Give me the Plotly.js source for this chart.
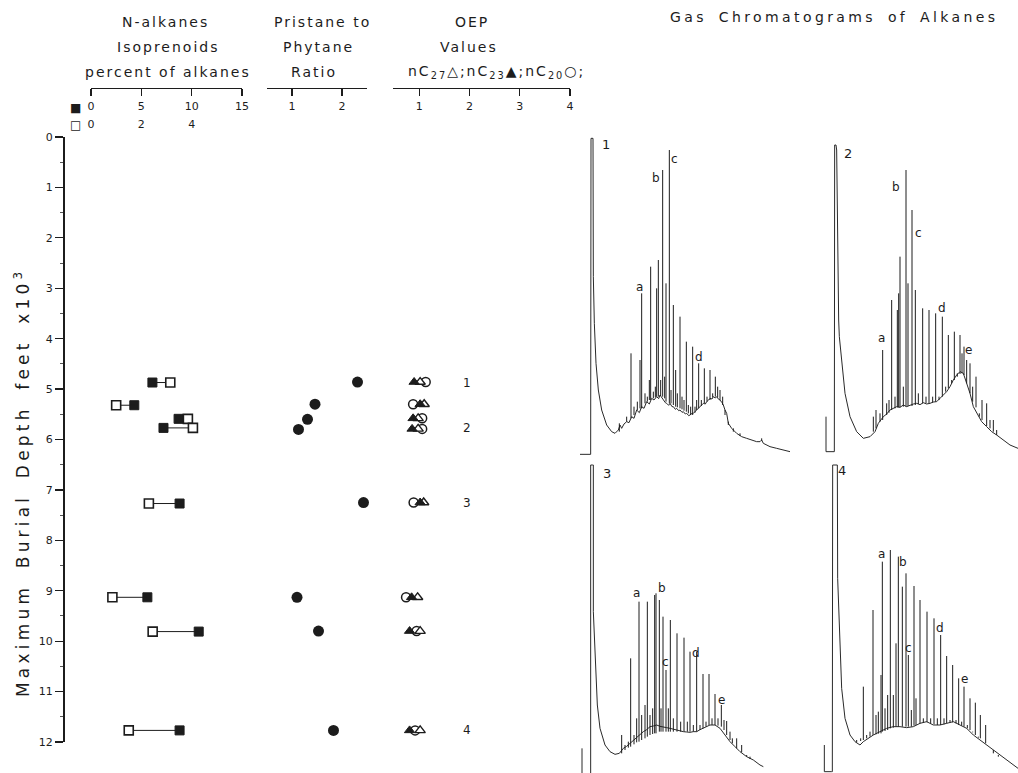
<!DOCTYPE html>
<html><head><meta charset="utf-8">
<script src="https://cdn.plot.ly/plotly-3.0.1.min.js"></script>
<style>
html,body{margin:0;padding:0;background:#fff;}
#chart{width:1018px;height:773px;}
.annotation-text{letter-spacing:2px;}
text[data-unformatted^="Gas"]{letter-spacing:3.4px;word-spacing:4px;}
text[data-unformatted^="Maximum"]{letter-spacing:4.2px;word-spacing:6px;}
</style></head><body><div id="chart"></div><script>
// ---------- left panel data ----------
const depthSq = [4.87, 5.32, 5.59, 5.77, 7.27, 9.13, 9.81, 11.77];
const nAlkanes = [6.1, 4.3, 8.7, 7.2, 8.8, 5.6, 10.7, 8.8];          // filled squares, %
const isoprenoids = [3.15, 1.0, 3.85, 4.05, 2.3, 0.85, 2.45, 1.5];   // open squares, %
const depthPP = [4.86, 5.30, 5.60, 5.80, 7.25, 9.13, 9.80, 11.77];
const pristanePhytane = [2.31, 1.46, 1.31, 1.13, 2.43, 1.10, 1.53, 1.83];
const depthOEP = [4.86, 5.30, 5.58, 5.79, 7.25, 9.13, 9.80, 11.77];
const oepC27 = [1.02, 1.10, 0.98, 0.98, 1.09, 0.97, 1.02, 1.02];  // open triangle
const oepC23 = [0.90, 1.02, 0.88, 0.86, 1.02, 0.85, 0.81, 0.81];  // filled triangle
const oepC20 = [1.13, 0.88, 1.06, 1.06, 0.89, 0.74, 0.95, 0.92];  // open circle
const chromLabels = ['1', '2', '3', '4'];
const chromDepth = [4.87, 5.77, 7.25, 11.77];
const depthTicks = [0,1,2,3,4,5,6,7,8,9,10,11,12];
const nAlkTicks = [0, 5, 10, 15];
const isoTicks = [0, 2, 4];
const ppTicks = [1, 2];
const oepTicks = [1, 2, 3, 4];
const NALK_RANGE = [0, 15], ISO_RANGE = [0, 6];

// ---------- chromatograms (retention units, detector response) ----------
const c1BaseX = [60,92,93,99,100,103,108,115,125,140,155,165,175,180,185,192,200,207,215,222,230,238,245,252,260,268,275,282,290,296,300,306,310,316,320,326,330,336,340,346,350,356,360,366,370,376,380,386,390,396,400,406,410,416,420,426,430,436,440,446,450,456,460,466,470,476,480,486,490,495,500,505,515,530,545,560,575,590,600,605,610,630,650,670,690];
const c1BaseY = [17,17,965,965,550,410,290,210,150,105,85,80,90,105,95,108,115,112,130,125,150,142,160,155,175,168,185,180,190,184,195,186,180,172,170,164,170,160,160,152,155,148,150,143,145,138,140,133,135,140,140,146,150,155,160,166,170,168,175,180,185,183,190,186,190,182,180,172,165,150,140,110,95,80,70,65,60,55,55,60,50,40,35,30,25];
const c1PeakX = [178,200,213,222,232,240,245,255,262,268,272,280,286,290,295,302,308,314,318,328,333,340,347,352,360,366,372,379,385,392,398,405,410,416,424,433,441,450,458,466,473,480,488,495,505,520,540,605];
const c1PeakTop = [110,130,320,160,175,300,500,200,190,240,580,205,220,515,600,240,870,250,530,930,210,465,270,200,430,190,180,355,165,160,340,160,180,290,180,275,190,270,200,250,220,210,190,150,115,95,80,65];
const c1PeakFoot = [85,115,125,135,150,155,155,170,175,180,180,185,188,190,190,192,190,185,175,170,170,165,160,158,155,152,148,145,140,135,135,142,150,155,162,170,175,180,188,190,188,180,165,135,105,85,72,58];

const c2BaseX = [108,108,133,134,138,140,146,148,155,165,180,200,220,240,255,265,280,290,300,310,320,330,340,350,360,370,380,390,400,410,420,430,440,450,460,470,480,490,500,510,520,530,540,550,560,575,590,605,620,640,660,684];
const c2BaseY = [130,25,25,945,945,930,420,370,300,200,130,85,65,70,85,110,130,138,150,155,160,158,165,160,165,168,170,166,172,168,170,174,175,185,195,205,220,240,255,265,260,230,200,160,140,115,100,85,75,60,45,35];
const c2PeakX = [250,258,270,278,290,297,305,315,322,326,330,340,348,354,366,376,385,398,408,417,428,437,447,457,467,475,485,493,502,510,516,522,530,540,548,558,568,576,590,600,610,620];
const c2PeakTop = [130,150,140,330,170,180,480,190,450,500,610,220,870,530,750,510,200,455,190,450,190,440,190,430,220,375,240,385,260,375,320,340,300,290,220,250,140,180,170,120,120,90];
const c2PeakFoot = [85,95,115,120,135,142,150,155,158,158,158,160,160,162,162,165,168,170,170,170,172,175,180,190,205,215,230,240,250,258,260,255,230,200,175,158,130,120,102,95,85,75];

const c3BaseX = [66,66,null,92,92,98,100,100,105,112,120,135,150,165,178,190,200,210,220,230,240,250,260,270,280,290,300,310,320,330,340,350,360,370,380,390,400,410,420,430,440,450,465,480,495,510,525,540,560,580,600,610];
const c3BaseY = [74,0,null,0,924,924,924,484,354,204,134,84,64,56,59,74,80,89,98,109,116,124,130,139,141,144,140,139,136,134,131,129,126,124,123,122,124,124,130,134,140,144,144,134,114,94,79,64,49,39,24,19];
const c3PeakX = [185,195,205,212,222,230,237,245,255,262,270,278,284,288,298,303,309,318,325,331,340,351,362,372,382,390,400,410,420,429,438,447,456,465,474,484,492,500,510,517,530,545,560,570];
const c3PeakTop = [114,84,94,344,114,164,514,174,204,514,174,194,534,539,519,194,469,309,194,459,164,419,154,406,154,364,144,364,144,297,154,297,164,237,164,204,159,156,124,104,104,84,54,49];
const c3PeakFoot = [59,69,76,79,86,92,94,99,104,109,114,117,119,119,124,124,124,124,124,124,124,124,124,124,124,124,124,124,129,134,139,144,144,144,142,139,129,114,99,89,74,62,49,42];

const c4BaseX = [103,103,125,127,128,140,142,143,150,155,165,180,195,210,220,235,250,270,290,310,330,350,370,390,410,430,450,470,490,510,530,550,570,590,610,630,650,670,684];
const c4BaseY = [84,4,4,4,924,924,924,584,354,254,164,114,94,84,94,104,114,124,134,139,139,136,139,149,154,144,144,149,154,144,134,114,99,84,69,54,39,24,14];
const c4PeakX = [200,212,220,230,240,249,258,265,273,277,285,293,301,310,318,325,337,348,355,364,372,378,390,400,411,422,432,442,452,462,470,480,488,498,506,515,522,532,540,548,556,565,571,587,610,625];
const c4PeakTop = [99,104,259,114,124,489,174,184,294,634,194,234,669,234,389,649,559,599,354,189,561,224,519,164,484,164,464,164,414,164,351,159,324,159,284,154,259,144,224,124,211,109,174,144,69,54];
const c4PeakFoot = [92,96,99,104,109,114,116,118,119,124,126,129,134,136,139,139,139,139,139,139,142,144,149,151,152,149,146,144,144,146,149,151,152,149,144,142,139,134,129,122,114,106,104,89,59,49];

const peakLabels = [
  {p:0, t:'1', x:140, y:945, big:true}, {p:0, t:'a', x:240, y:520}, {p:0, t:'b', x:290, y:845}, {p:0, t:'c', x:345, y:902}, {p:0, t:'d', x:420, y:308},
  {p:1, t:'2', x:178, y:920, big:true}, {p:1, t:'a', x:278, y:365}, {p:1, t:'b', x:322, y:820}, {p:1, t:'c', x:388, y:682}, {p:1, t:'d', x:458, y:455}, {p:1, t:'e', x:538, y:330},
  {p:2, t:'3', x:143, y:899, big:true}, {p:2, t:'a', x:232, y:539}, {p:2, t:'b', x:310, y:556}, {p:2, t:'c', x:320, y:334}, {p:2, t:'d', x:412, y:359}, {p:2, t:'e', x:487, y:219},
  {p:3, t:'4', x:160, y:906, big:true}, {p:3, t:'a', x:277, y:657}, {p:3, t:'b', x:343, y:632}, {p:3, t:'c', x:357, y:374}, {p:3, t:'d', x:452, y:434}, {p:3, t:'e', x:525, y:281}
];

// ---------- helpers ----------
const W = 1018, H = 773;
const fx = p => p / W;
const fy = p => 1 - p / H;
const INK = '#1c1c1c';
const FONT = 'DejaVu Sans, sans-serif';

const traces = [];
const nalkPerIso = (NALK_RANGE[1] - NALK_RANGE[0]) / (ISO_RANGE[1] - ISO_RANGE[0]);
const cx = [], cy = [];
depthSq.forEach((d, i) => { cx.push(isoprenoids[i], nAlkanes[i] / nalkPerIso, null); cy.push(d, d, null); });
traces.push({x: cx, y: cy, xaxis: 'x2', yaxis: 'y', mode: 'lines', line: {color: INK, width: 1}, hoverinfo: 'skip', cliponaxis: false});
traces.push({x: nAlkanes, y: depthSq, xaxis: 'x', yaxis: 'y', mode: 'markers', cliponaxis: false,
  marker: {symbol: 'square', size: 9, color: INK, line: {color: INK, width: 1}}});
traces.push({x: isoprenoids, y: depthSq, xaxis: 'x2', yaxis: 'y', mode: 'markers', cliponaxis: false,
  marker: {symbol: 'square', size: 9, color: '#fff', line: {color: INK, width: 1.6}}});
traces.push({x: pristanePhytane, y: depthPP, xaxis: 'x3', yaxis: 'y', mode: 'markers', cliponaxis: false,
  marker: {symbol: 'circle', size: 11, color: INK}});
traces.push({x: oepC20, y: depthOEP, xaxis: 'x4', yaxis: 'y', mode: 'markers', cliponaxis: false,
  marker: {symbol: 'circle', size: 9, color: '#fff', line: {color: INK, width: 1.5}}});
traces.push({x: oepC27, y: depthOEP, xaxis: 'x4', yaxis: 'y', mode: 'markers', cliponaxis: false,
  marker: {symbol: 'triangle-up', size: 9, color: '#fff', line: {color: INK, width: 1.4}}});
traces.push({x: oepC23, y: depthOEP, xaxis: 'x4', yaxis: 'y', mode: 'markers', cliponaxis: false,
  marker: {symbol: 'triangle-up', size: 9, color: INK, line: {color: INK, width: 1}}});

const chroms = [
  [c1BaseX, c1BaseY, c1PeakX, c1PeakTop, c1PeakFoot],
  [c2BaseX, c2BaseY, c2PeakX, c2PeakTop, c2PeakFoot],
  [c3BaseX, c3BaseY, c3PeakX, c3PeakTop, c3PeakFoot],
  [c4BaseX, c4BaseY, c4PeakX, c4PeakTop, c4PeakFoot]
];
chroms.forEach((c, k) => {
  const xa = 'x' + (5 + k), ya = 'y' + (2 + k);
  traces.push({x: c[0], y: c[1], xaxis: xa, yaxis: ya, mode: 'lines', line: {color: '#2a2a2a', width: 1}, hoverinfo: 'skip', cliponaxis: false});
  const sx = [], sy = [];
  c[2].forEach((p, i) => { sx.push(p, p, null); sy.push(c[4][i], c[3][i], null); });
  traces.push({x: sx, y: sy, xaxis: xa, yaxis: ya, mode: 'lines', line: {color: '#1c1c1c', width: 1}, hoverinfo: 'skip', cliponaxis: false});
});

// ---------- layout ----------
const tickFont = {family: FONT, size: 11, color: INK};
const topAxis = (dom, range, tv, pos, extra) => Object.assign({
  domain: [fx(dom[0]), fx(dom[1])], range: range, anchor: 'free', position: fy(pos), side: 'bottom',
  showline: true, linecolor: INK, linewidth: 1.3, ticks: 'outside', ticklen: 7, tickwidth: 1.2, tickcolor: INK,
  tickmode: 'array', tickvals: tv, ticktext: tv.map(String), tickfont: tickFont, showgrid: false, zeroline: false, fixedrange: true
}, extra || {});

const layout = {
  width: W, height: H, margin: {l: 0, r: 0, t: 0, b: 0}, paper_bgcolor: '#fff', plot_bgcolor: 'rgba(0,0,0,0)',
  showlegend: false, font: {family: FONT, color: INK},
  yaxis: {domain: [fy(742), fy(137)], range: [12, 0], anchor: 'free', position: fx(63), side: 'left',
    showline: true, linecolor: INK, linewidth: 1.5, ticks: 'outside', ticklen: 8, tickwidth: 1.2, tickcolor: INK,
    tickmode: 'array', tickvals: depthTicks, ticktext: depthTicks.map(String), tickfont: tickFont,
    minor: {ticks: 'outside', ticklen: 3, tickwidth: 1, tickcolor: '#555', dtick: 0.5, showgrid: false},
    showgrid: false, zeroline: false, fixedrange: true},
  xaxis: topAxis([91, 242], NALK_RANGE, nAlkTicks, 88),
  xaxis2: topAxis([91, 242], ISO_RANGE, isoTicks, 116, {showline: false, ticks: ''}),
  xaxis3: topAxis([267, 367], [0.5, 2.5], ppTicks, 88),
  xaxis4: topAxis([393, 570], [0.48, 4.0], oepTicks, 88),
  annotations: []
};
const panels = [
  {x: [560, 790], xr: [0, 690], y: [460, 120], yr: [0, 1020]},
  {x: [790, 1018], xr: [0, 684], y: [460, 120], yr: [0, 1020]},
  {x: [560, 790], xr: [0, 690], y: [773, 455], yr: [0, 954]},
  {x: [790, 1018], xr: [0, 684], y: [773, 455], yr: [0, 954]}
];
panels.forEach((p, k) => {
  layout['xaxis' + (5 + k)] = {domain: [fx(p.x[0]), fx(p.x[1])], range: p.xr, anchor: 'y' + (2 + k), visible: false, fixedrange: true};
  layout['yaxis' + (2 + k)] = {domain: [fy(p.y[0]), fy(p.y[1])], range: p.yr, anchor: 'x' + (5 + k), visible: false, fixedrange: true};
});

const ann = (text, x, y, size, extra) => Object.assign({text: text, x: x, y: y, xref: 'paper', yref: 'paper',
  showarrow: false, xanchor: 'center', yanchor: 'middle', font: {family: FONT, size: size, color: INK}}, extra || {});
const A = layout.annotations;
A.push(ann('N-alkanes', fx(165), fy(22), 14));
A.push(ann('Isoprenoids', fx(168), fy(47), 14));
A.push(ann('percent of alkanes', fx(168), fy(72), 14));
A.push(ann('Pristane to', fx(322), fy(22), 14));
A.push(ann('Phytane', fx(318), fy(47), 14));
A.push(ann('Ratio', fx(314), fy(72), 14));
A.push(ann('OEP', fx(472), fy(22), 14));
A.push(ann('Values', fx(469), fy(47), 14));
A.push(ann('nC<sub>27</sub>△;nC<sub>23</sub>▲;nC<sub>20</sub>○;', fx(496), fy(72), 14));
A.push(ann('Gas Chromatograms of Alkanes', fx(834), fy(17), 14));
A.push(ann('Maximum Burial Depth feet x10<sup>3</sup>', fx(22), fy(483), 17, {textangle: -90}));
A.push(ann('■', fx(76), fy(108), 12));
A.push(ann('□', fx(76), fy(125), 12));
chromLabels.forEach((t, i) => A.push({text: t, x: fx(468), y: chromDepth[i], xref: 'paper', yref: 'y', showarrow: false,
  xanchor: 'center', yanchor: 'middle', font: {family: FONT, size: 12, color: INK}}));
peakLabels.forEach(l => A.push({text: l.t, x: l.x, y: l.y, xref: 'x' + (5 + l.p), yref: 'y' + (2 + l.p), showarrow: false,
  xanchor: 'center', yanchor: 'middle', font: {family: FONT, size: l.big ? 13 : 12, color: INK}}));

Plotly.newPlot('chart', traces, layout, {staticPlot: true, displayModeBar: false});
</script></body></html>
